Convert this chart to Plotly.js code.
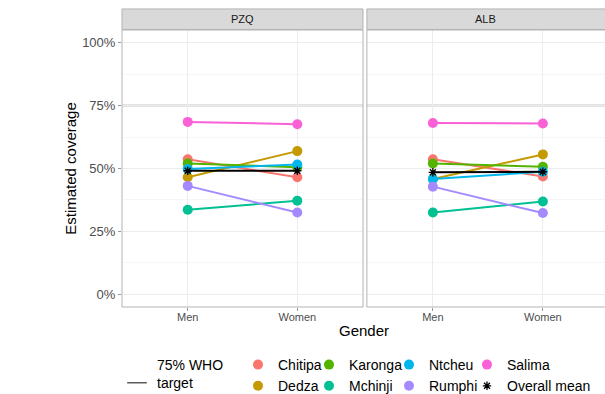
<!DOCTYPE html>
<html>
<head>
<meta charset="utf-8">
<script src="https://cdn.plot.ly/plotly-3.0.1.min.js"></script>
<style>html,body{margin:0;padding:0;background:#fff;}#chart{width:605px;height:394px;}</style>
</head>
<body>
<div id="chart"></div>
<script>
// ---- data ----
var genders = ['Men', 'Women'];
var districts = ['Chitipa', 'Dedza', 'Karonga', 'Mchinji', 'Ntcheu', 'Rumphi', 'Salima', 'Overall mean'];
var colors = ['#F8766D', '#C49A00', '#53B400', '#00C094', '#00B6EB', '#A58AFF', '#FB61D7', '#000000'];
var pzqMen   = [53.7, 46.5, 52.0, 33.6, 49.8, 43.1, 68.5, 49.1];
var pzqWomen = [46.5, 56.9, 50.5, 37.2, 51.6, 32.5, 67.6, 49.1];
var albMen   = [53.7, 45.8, 52.0, 32.5, 45.8, 42.8, 68.1, 48.5];
var albWomen = [46.8, 55.6, 50.7, 36.9, 48.7, 32.3, 67.9, 48.7];
var legendCols = ['legend', 'legend', 'legend2', 'legend2', 'legend3', 'legend3', 'legend4', 'legend4'];
var panels = ['PZQ', 'ALB'];
var target = 75;
var targetLabel = '75% WHO<br>target';
var yTicks = [0, 25, 50, 75, 100];
var yTickText = ['0%', '25%', '50%', '75%', '100%'];
var yMinor = [12.5, 37.5, 62.5, 87.5];

var FONT = 'Liberation Sans, Arial, sans-serif';
var traces = [];
function markerFor(i) {
  return districts[i] === 'Overall mean'
    ? {symbol: 'asterisk-open', size: 7, color: colors[i], line: {color: colors[i], width: 1.3}}
    : {symbol: 'circle', size: 10, color: colors[i]};
}
districts.forEach(function (d, i) {
  traces.push({
    type: 'scatter', mode: 'lines+markers', x: genders, y: [pzqMen[i], pzqWomen[i]],
    xaxis: 'x', yaxis: 'y', name: d, legendgroup: d,
    line: {color: colors[i], width: 2}, marker: markerFor(i), showlegend: false
  });
  traces.push({
    type: 'scatter', mode: 'lines+markers', x: genders, y: [albMen[i], albWomen[i]],
    xaxis: 'x2', yaxis: 'y2', name: d, legendgroup: d,
    line: {color: colors[i], width: 2}, marker: markerFor(i), showlegend: false
  });
});
// legend keys (compact: marker only)
districts.forEach(function (d, i) {
  traces.push({
    type: 'scatter', mode: 'markers', x: [null], y: [null], xaxis: 'x', yaxis: 'y',
    name: d, legendgroup: d, legend: legendCols[i], marker: markerFor(i), showlegend: true
  });
});
// legend entry for the target line
traces.push({
  type: 'scatter', mode: 'markers', x: [null], y: [null], xaxis: 'x', yaxis: 'y',
  name: targetLabel, legend: 'legend5',
  marker: {symbol: 'line-ew-open', size: 14, color: '#333333', line: {color: '#333333', width: 1.2}}
});

var axisGrid = '#ececec';
function xax(domain, range) {
  return {
    domain: domain, type: 'category', categoryarray: genders, range: range,
    showgrid: true, gridcolor: axisGrid, gridwidth: 1, zeroline: false,
    ticks: 'outside', ticklen: 3, tickcolor: '#999999', ticklabelstandoff: -3,
    tickfont: {family: FONT, size: 11, color: '#4d4d4d'}, showline: false, fixedrange: true
  };
}
function yax(showLabels) {
  return {
    range: [-5, 105], tickmode: 'array', tickvals: yTicks, ticktext: yTickText, showticklabels: showLabels,
    showgrid: true, gridcolor: axisGrid, gridwidth: 1, zeroline: false,
    minor: {tickvals: yMinor, showgrid: true, gridcolor: '#f6f6f6', gridwidth: 1, ticks: ''},
    ticks: showLabels ? 'outside' : '', ticklen: 3, tickcolor: '#999999',
    tickfont: {family: FONT, size: 13, color: '#4d4d4d'}, showline: false, fixedrange: true
  };
}

var yaxis = yax(true);
yaxis.title = {text: 'Estimated coverage', font: {family: FONT, size: 15, color: '#000000'}, standoff: 1};
var yaxis2 = yax(false);

var shapes = [];
var annotations = [];
['x', 'x2'].forEach(function (ax, k) {
  var ya = k === 0 ? 'y' : 'y2';
  shapes.push({type: 'line', xref: ax + ' domain', yref: ya, x0: 0, x1: 1, y0: target, y1: target,
    line: {color: '#8a8a8a', width: 1.5}, layer: 'below'});
  shapes.push({type: 'rect', xref: ax + ' domain', yref: ya + ' domain', x0: 0, x1: k === 0 ? 1 : 1.02, y0: 0, y1: 1,
    line: {color: '#b3b3b3', width: 1}, fillcolor: 'rgba(0,0,0,0)', layer: 'above'});
  shapes.push({type: 'rect', xref: ax + ' domain', yref: 'paper', x0: 0, x1: k === 0 ? 1 : 1.02, y0: 1.002, y1: 1.076,
    line: {color: '#b3b3b3', width: 1}, fillcolor: '#d9d9d9', layer: 'above'});
  annotations.push({xref: ax + ' domain', yref: 'paper', x: 0.5, y: 1.039, text: panels[k], showarrow: false,
    xanchor: 'center', yanchor: 'middle', font: {family: FONT, size: 11, color: '#1a1a1a'}});
});
annotations.push({xref: 'paper', yref: 'paper', x: 0.5, y: -0.0866, text: 'Gender', showarrow: false,
  xanchor: 'center', yanchor: 'middle', font: {family: FONT, size: 15, color: '#000000'}});

function leg(x, y, valign) {
  return {x: x, y: y, xanchor: 'left', yanchor: 'top', orientation: 'v', bgcolor: 'rgba(0,0,0,0)',
    borderwidth: 0, tracegroupgap: 0, traceorder: 'normal', itemwidth: 30, valign: valign || 'middle',
    font: {family: FONT, size: 14, color: '#000000'}};
}
var legY = -0.1516;
var layout = {
  width: 605, height: 394,
  margin: {l: 122, r: 0, t: 30, b: 87, autoexpand: false},
  paper_bgcolor: '#ffffff', plot_bgcolor: '#ffffff',
  font: {family: FONT},
  xaxis: xax([0, 0.499], [-0.6, 1.6]),
  xaxis2: xax([0.507, 1], [-0.6, 1.565]),
  yaxis: yaxis, yaxis2: yaxis2,
  showlegend: true,
  legend: leg((278 - 40 - 122) / 483, legY),
  legend2: leg((349 - 40 - 122) / 483, legY),
  legend3: leg((429 - 40 - 122) / 483, legY),
  legend4: leg((507 - 40 - 122) / 483, legY),
  legend5: leg((157 - 40 - 122) / 483, legY, 'bottom'),
  shapes: shapes, annotations: annotations
};
layout.xaxis2.anchor = 'y2';
layout.yaxis2.anchor = 'x2';

Plotly.newPlot('chart', traces, layout, {displayModeBar: false, staticPlot: true});
</script>
</body>
</html>
